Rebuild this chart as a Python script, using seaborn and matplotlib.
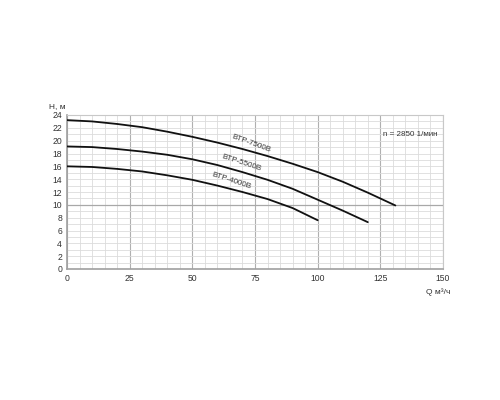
import matplotlib
matplotlib.use('Agg')
import matplotlib.pyplot as plt
from matplotlib.ticker import MultipleLocator
import pandas as pd
import seaborn as sns

# Pump curves (Q in m3/h, H in m)
q_7500 = [0, 10, 20, 30, 40, 50, 60, 70, 80, 90, 100, 110, 120, 131]
h_7500 = [23.2, 23.0, 22.6, 22.1, 21.4, 20.6, 19.7, 18.7, 17.6, 16.4, 15.1, 13.6, 11.9, 9.9]

q_5500 = [0, 10, 20, 30, 40, 50, 60, 70, 80, 90, 100, 110, 120]
h_5500 = [19.1, 19.0, 18.7, 18.3, 17.8, 17.1, 16.2, 15.1, 13.9, 12.5, 10.8, 9.1, 7.3]

q_4000 = [0, 10, 20, 30, 40, 50, 60, 70, 80, 90, 100]
h_4000 = [16.0, 15.9, 15.6, 15.2, 14.6, 13.9, 13.0, 12.0, 10.9, 9.5, 7.6]

curve_names = ['BTP-7500B', 'BTP-5500B', 'BTP-4000B']
# label anchor (Q, H) and angle for each curve name
label_q = [73.4, 69.4, 65.4]
label_h = [19.6, 16.6, 13.8]
label_rot = [-20, -18, -18]

x_ticks = [0, 25, 50, 75, 100, 125, 150]
y_ticks = list(range(0, 25, 2))

speed_note = 'n = 2850 1/мин'
x_title = 'Q м³/ч'
y_title = 'H, м'

sns.set_style('white')
plt.rcParams['font.family'] = ['Liberation Sans', 'DejaVu Sans']

df = pd.concat([
    pd.DataFrame({'Q': q_7500, 'H': h_7500, 'pump': curve_names[0]}),
    pd.DataFrame({'Q': q_5500, 'H': h_5500, 'pump': curve_names[1]}),
    pd.DataFrame({'Q': q_4000, 'H': h_4000, 'pump': curve_names[2]}),
])

fig = plt.figure(figsize=(5, 4), dpi=100)
ax = fig.add_axes([0.134, 0.3275, 0.752, 0.385])

# grid
ax.xaxis.set_minor_locator(MultipleLocator(5))
ax.yaxis.set_minor_locator(MultipleLocator(1))
ax.grid(which='minor', color='#dcdcdc', lw=0.6)
ax.grid(which='major', axis='y', color='#dcdcdc', lw=0.6)
ax.grid(which='major', axis='x', color='#b0b0b0', lw=0.8)
ax.axhline(10, color='#a8a8a8', lw=0.9, zorder=1)
ax.set_axisbelow(True)

sns.lineplot(data=df, x='Q', y='H', units='pump', estimator=None,
             color='#111111', lw=1.3, ax=ax, legend=False, zorder=3)

for name, lq, lh, rot in zip(curve_names, label_q, label_h, label_rot):
    ax.text(lq, lh, name, rotation=rot, ha='center', va='center',
            fontsize=5.8, color='#333333', rotation_mode='anchor')

ax.set_xlim(0, 150)
ax.set_ylim(0, 24)
ax.set_xticks(x_ticks)
ax.set_yticks(y_ticks)
ax.tick_params(axis='both', which='major', labelsize=6.2, colors='#999999',
               labelcolor='#333333', length=2.5, width=0.8, pad=1.0)
ax.tick_params(which='minor', length=0)
ax.set_xlabel('')
ax.set_ylabel('')

for side in ['left', 'bottom']:
    ax.spines[side].set_color('#a0a0a0')
    ax.spines[side].set_linewidth(1.2)
for side in ['top', 'right']:
    ax.spines[side].set_color('#c8c8c8')
    ax.spines[side].set_linewidth(0.8)

ax.text(148, 20.9, speed_note, ha='right', va='center', fontsize=5.8, color='#333333')
ax.text(-0.047, 1.058, y_title, transform=ax.transAxes, ha='left', va='center',
        fontsize=6, color='#333333')
ax.text(0.955, -0.15, x_title, transform=ax.transAxes, ha='left', va='center',
        fontsize=6, color='#333333')

fig.savefig('out.png', dpi=100, facecolor='white')
